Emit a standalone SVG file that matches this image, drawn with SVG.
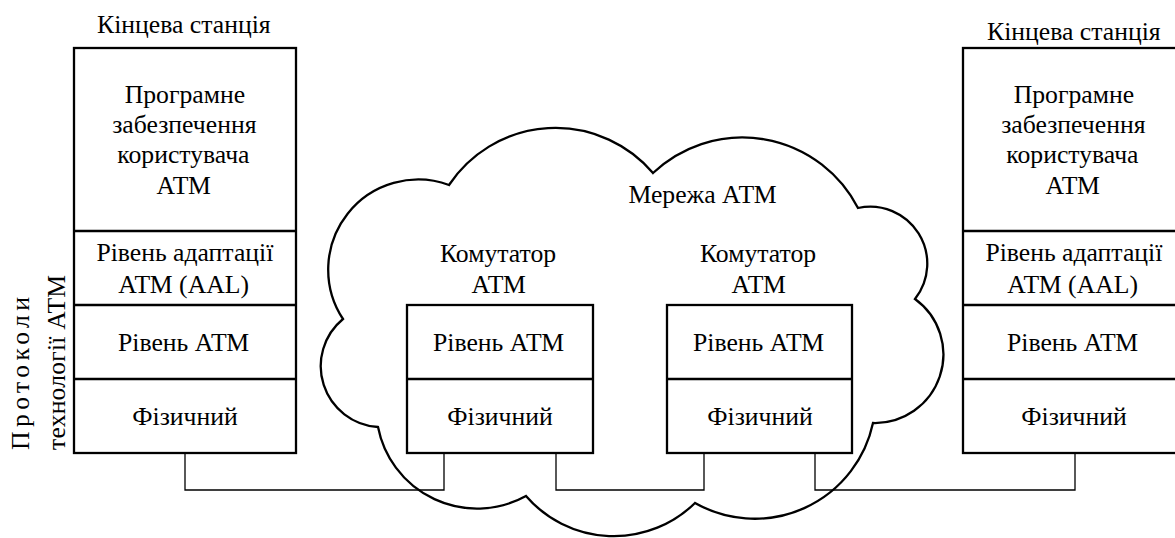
<svg xmlns="http://www.w3.org/2000/svg" width="1175" height="538" viewBox="0 0 1175 538">
<style>
.box{fill:none;stroke:#000;stroke-width:2.3}
.cloud{fill:none;stroke:#000;stroke-width:2.3}
.wire{fill:none;stroke:#000;stroke-width:1.3}
.t{font-family:'Liberation Serif','Times New Roman',serif;font-size:25.7px;fill:#000}
</style>
<rect width="1175" height="538" fill="#fff"/>
<g id="cloud">
<path class="cloud" d="M449 185 A128 128 0 0 1 653 173 A130 130 0 0 1 858 208 A57 57 0 0 1 915 299 A68.5 68.5 0 0 1 873 423 A121 121 0 0 1 695 503 A116 116 0 0 1 526 496 A101 101 0 0 1 378 427 A61 61 0 0 1 343 319 A90 90 0 0 1 449 185 Z"/>
<text class="t" x="628.4" y="203">Мережа АТМ</text>
</g>
<g id="connectors">
<path class="wire" d="M185 453 V490 H444 V453"/>
<path class="wire" d="M556 453 V490 H704 V453"/>
<path class="wire" d="M815 453 V490 H1075 V453"/>
</g>
<g id="station-left">
<text class="t" x="97.1" y="33">Кінцева станція</text>
<rect class="box" x="74" y="48" width="222" height="405"/>
<path class="box" d="M74 231 H296 M74 305 H296 M74 379 H296"/>
<text class="t" x="124.7" y="103">Програмне</text>
<text class="t" x="112.2" y="133">забезпечення</text>
<text class="t" x="117.3" y="163">користувача</text>
<text class="t" x="156.4" y="194">АТМ</text>
<text class="t" x="96.4" y="261">Рівень адаптації</text>
<text class="t" x="118.2" y="293">АТМ (AAL)</text>
<text class="t" x="118" y="351">Рівень АТМ</text>
<text class="t" x="132.3" y="425">Фізичний</text>
</g>
<g id="protocols-label">
<text class="t" transform="translate(29 450) rotate(-90)" textLength="153" lengthAdjust="spacing">Протоколи</text>
<text class="t" transform="translate(65 450) rotate(-90)" textLength="175" lengthAdjust="spacing">технології АТМ</text>
</g>
<g id="switch-1">
<text class="t" x="440" y="262">Комутатор</text>
<text class="t" x="471.4" y="293">АТМ</text>
<rect class="box" x="407" y="305" width="186" height="148"/>
<path class="box" d="M407 379 H593"/>
<text class="t" x="433" y="351">Рівень АТМ</text>
<text class="t" x="447.3" y="425">Фізичний</text>
</g>
<g id="switch-2">
<text class="t" x="700" y="262">Комутатор</text>
<text class="t" x="731.4" y="293">АТМ</text>
<rect class="box" x="667" y="305" width="185" height="148"/>
<path class="box" d="M667 379 H852"/>
<text class="t" x="693" y="351">Рівень АТМ</text>
<text class="t" x="707.3" y="425">Фізичний</text>
</g>
<g id="station-right">
<text class="t" x="987.1" y="40">Кінцева станція</text>
<rect class="box" x="963" y="48" width="222" height="405"/>
<path class="box" d="M963 231 H1185 M963 305 H1185 M963 379 H1185"/>
<text class="t" x="1013.7" y="103">Програмне</text>
<text class="t" x="1001.2" y="133">забезпечення</text>
<text class="t" x="1006.3" y="163">користувача</text>
<text class="t" x="1045.4" y="194">АТМ</text>
<text class="t" x="985.4" y="261">Рівень адаптації</text>
<text class="t" x="1007.2" y="293">АТМ (AAL)</text>
<text class="t" x="1007" y="351">Рівень АТМ</text>
<text class="t" x="1021.3" y="425">Фізичний</text>
</g>
</svg>
